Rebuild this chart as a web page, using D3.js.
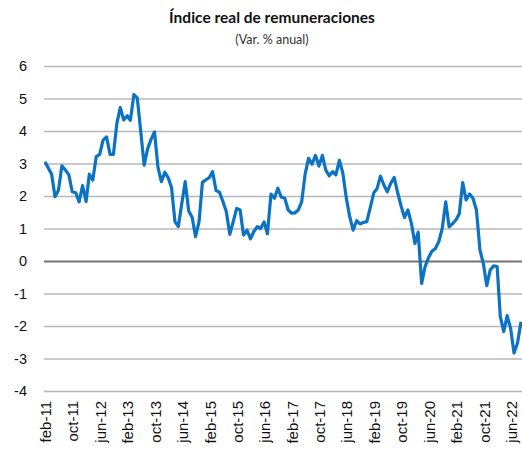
<!DOCTYPE html>
<html>
<head>
<meta charset="utf-8">
<script src="https://cdn.jsdelivr.net/npm/d3@7"></script>
<style>
  body { margin: 0; background: #fff; }
  svg { display: block; font-family: Lato, "Open Sans", sans-serif; }
</style>
</head>
<body>
<div id="app"></div>
<script>
const title = 'Índice real de remuneraciones'
const subtitle = '(Var. % anual)'

// monthly values, feb-11 .. sep-22
const startMonth = new Date(2011, 1, 1)
const values = [
  3.05, 2.87, 2.67, 1.98, 2.18, 2.93, 2.8, 2.65, 2.13, 2.1, 1.82, 2.32,
  1.83, 2.67, 2.49, 3.21, 3.28, 3.72, 3.82, 3.28, 3.28, 4.24, 4.72, 4.34,
  4.47, 4.33, 5.12, 5.02, 3.98, 2.95, 3.45, 3.75, 3.97, 2.88, 2.44, 2.73,
  2.55, 2.27, 1.21, 1.06, 1.78, 2.44, 1.54, 1.34, 0.75, 1.21, 2.42, 2.5,
  2.57, 2.75, 2.17, 2.12, 1.83, 1.52, 0.82, 1.21, 1.62, 1.57, 0.8, 0.95,
  0.68, 0.9, 1.06, 1.0, 1.2, 0.84, 2.06, 1.93, 2.24, 1.96, 1.94, 1.57,
  1.47, 1.48, 1.57, 1.82, 2.68, 3.16, 2.98, 3.25, 2.92, 3.25, 2.8, 2.62,
  2.75, 2.65, 3.1, 2.72, 1.95, 1.38, 0.95, 1.24, 1.14, 1.19, 1.21, 1.65,
  2.1, 2.22, 2.61, 2.34, 2.13, 2.39, 2.57, 2.1, 1.7, 1.34, 1.57, 1.16,
  0.54, 0.89, -0.69, -0.18, 0.1, 0.3, 0.38, 0.6, 1.0, 1.82, 1.05, 1.15,
  1.27, 1.45, 2.41, 1.88, 2.06, 1.93, 1.57, 0.34, -0.07, -0.76, -0.28, -0.15,
  -0.17, -1.71, -2.17, -1.68, -2.08, -2.83, -2.52, -1.87,
]

const tickLabels = [
  'feb-11', 'oct-11', 'jun-12', 'feb-13', 'oct-13', 'jun-14', 'feb-15',
  'oct-15', 'jun-16', 'feb-17', 'oct-17', 'jun-18', 'feb-19', 'oct-19',
  'jun-20', 'feb-21', 'oct-21', 'jun-22',
]
const tickStep = 8 // months between labels
const yTicks = [6, 5, 4, 3, 2, 1, 0, -1, -2, -3, -4]

const width = 522
const height = 457

const months = values.map((_, i) => d3.timeMonth.offset(startMonth, i))
const data = values.map((v, i) => ({date: months[i], value: v}))

const x = d3.scaleTime()
  .domain(d3.extent(months))
  .range([45, 521])
const y = d3.scaleLinear()
  .domain([-4, 6])
  .range([391, 66])

const svg = d3.select('#app').append('svg')
  .attr('width', width)
  .attr('height', height)

// titles
svg.append('text')
  .attr('x', 272).attr('y', 23)
  .attr('text-anchor', 'middle')
  .attr('font-size', 15.5)
  .attr('font-weight', 'bold')
  .attr('fill', '#111')
  .text(title)
svg.append('text')
  .attr('x', 272).attr('y', 44)
  .attr('text-anchor', 'middle')
  .attr('font-size', 12.5)
  .attr('fill', '#333')
  .text(subtitle)

// gridlines + y labels
const yAxis = d3.axisLeft(y)
  .tickValues(yTicks)
  .tickSize(-(width - 44))
  .tickPadding(17)
  .tickFormat(d3.format('d'))
const gy = svg.append('g')
  .attr('transform', 'translate(44,0)')
  .call(yAxis)
gy.select('.domain').remove()
gy.selectAll('.tick line')
  .attr('stroke', (d) => (d === 0 ? '#737373' : '#b8b8b8'))
  .attr('stroke-width', (d) => (d === 0 ? 2 : 1.3))
gy.selectAll('.tick text')
  .attr('font-size', 14.5)
  .attr('fill', '#111')
  .text((d) => (d < 0 ? '-' + Math.abs(d) : d))

// x labels
const labelDates = tickLabels.map((_, k) => months[k * tickStep])
const xAxis = d3.axisBottom(x)
  .tickValues(labelDates)
  .tickSize(0)
  .tickFormat((d, k) => tickLabels[k])
const gx = svg.append('g')
  .attr('transform', 'translate(0,401)')
  .call(xAxis)
gx.select('.domain').remove()
gx.selectAll('.tick text')
  .attr('font-size', 15)
  .attr('fill', '#111')
  .attr('text-anchor', 'end')
  .attr('transform', 'rotate(-90)')
  .attr('x', 0)
  .attr('y', 0)
  .attr('dx', 0)
  .attr('dy', '0.38em')

// series
const line = d3.line()
  .x((d) => x(d.date))
  .y((d) => y(d.value))
svg.append('path')
  .datum(data)
  .attr('fill', 'none')
  .attr('stroke', '#0b72c4')
  .attr('stroke-width', 3.2)
  .attr('stroke-linejoin', 'round')
  .attr('d', line)
</script>
</body>
</html>
